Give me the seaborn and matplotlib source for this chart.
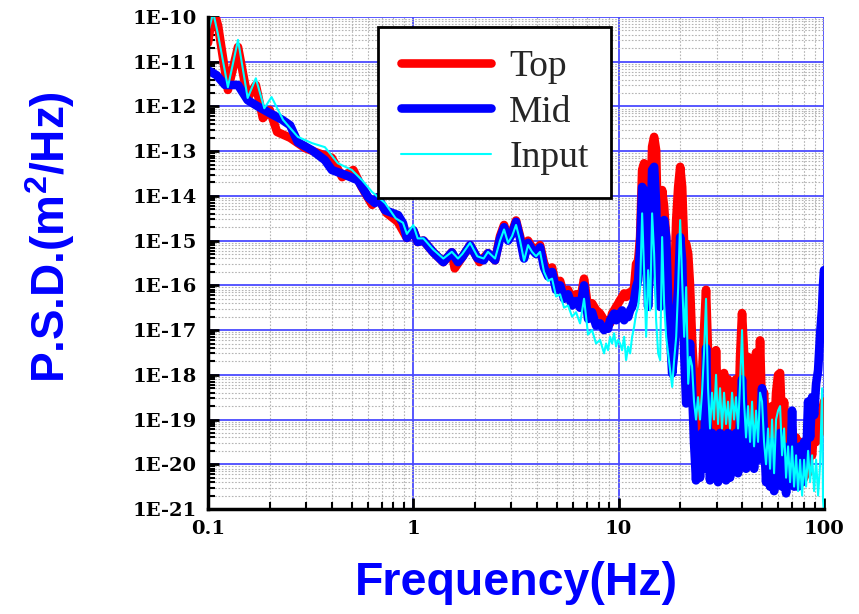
import numpy as np
import pandas as pd
import matplotlib
matplotlib.use("Agg")
import matplotlib.pyplot as plt
import seaborn as sns
from matplotlib.ticker import FixedLocator, LogLocator, NullFormatter

# ---- Spectra below 2.5 Hz: frequency [Hz] and log10 PSD [m^2/Hz] ----
top_lf_freq = [0.100, 0.106, 0.112, 0.125, 0.140, 0.156, 0.171, 0.185, 0.200, 0.217,
               0.251, 0.297, 0.343, 0.401, 0.450, 0.510, 0.560, 0.630, 0.670, 0.740,
               0.840, 0.930, 1.00, 1.05, 1.12, 1.25, 1.40, 1.54, 1.59, 1.73,
               1.89, 2.05, 2.10, 2.31, 2.50]
top_lf_log = [-10.58, -9.80, -10.20, -11.63, -10.67, -11.81, -11.52, -12.26, -12.08, -12.57,
              -12.70, -12.93, -13.04, -13.15, -13.58, -13.42, -13.80, -14.20, -14.03, -14.38,
              -14.58, -14.94, -14.77, -15.03, -15.00, -15.26, -15.48, -15.26, -15.62, -15.37,
              -15.10, -15.39, -15.48, -15.28, -15.44]

mid_lf_freq = [0.100, 0.110, 0.121, 0.140, 0.156, 0.175, 0.200, 0.230, 0.251, 0.274,
               0.321, 0.371, 0.401, 0.465, 0.537, 0.603, 0.650, 0.672, 0.728, 0.843,
               0.890, 0.930, 1.00, 1.05, 1.12, 1.25, 1.40, 1.54, 1.65, 1.73,
               1.89, 2.05, 2.20, 2.31, 2.50]
mid_lf_log = [-11.19, -11.30, -11.52, -11.52, -11.86, -12.00, -12.15, -12.30, -12.42, -12.80,
              -12.98, -13.20, -13.42, -13.53, -13.65, -14.03, -14.16, -14.03, -14.32, -14.43,
              -14.61, -14.94, -14.77, -15.03, -15.00, -15.26, -15.48, -15.26, -15.48, -15.37,
              -15.10, -15.39, -15.44, -15.28, -15.44]

input_lf_freq = [0.100, 0.106, 0.112, 0.125, 0.140, 0.156, 0.171, 0.188, 0.204, 0.232,
                 0.274, 0.321, 0.371, 0.429, 0.502, 0.563, 0.629, 0.728, 0.820, 0.890,
                 0.930, 1.00, 1.05, 1.12, 1.25, 1.40, 1.54, 1.65, 1.73, 1.89,
                 2.05, 2.20, 2.31, 2.50]
input_lf_log = [-10.36, -9.90, -10.40, -11.57, -10.51, -11.81, -11.37, -12.04, -11.79, -12.30,
                -12.68, -12.82, -12.91, -13.27, -13.42, -13.65, -13.91, -14.16, -14.50, -14.60,
                -14.85, -14.65, -14.95, -14.95, -15.20, -15.40, -15.25, -15.40, -15.30, -15.05,
                -15.35, -15.40, -15.25, -15.40]

# ---- Spectra above 2.5 Hz, sampled on a common frequency grid [Hz] ----
hf_freq = [2.644, 2.766, 2.893, 3.025, 3.164, 3.309, 3.461, 3.620, 3.786, 3.960,
           4.141, 4.331, 4.530, 4.738, 4.955, 5.183, 5.420, 5.669, 5.929, 6.201,
           6.486, 6.783, 7.094, 7.420, 7.760,
           8.116, 8.300, 8.489, 8.682, 8.879, 9.080, 9.287, 9.498, 9.714, 9.934,
           10.16, 10.39, 10.63, 10.87, 11.12, 11.37, 11.63, 11.89, 12.16, 12.44,
           12.72, 13.01, 13.30, 13.61, 13.91, 14.23, 14.55, 14.88, 15.22, 15.57,
           15.92, 16.28, 16.65, 17.03, 17.42, 17.81, 18.22, 18.63, 19.06, 19.49,
           19.93, 20.38, 20.85, 21.32, 21.81,
           22.26, 22.77, 23.28, 23.81, 24.35, 24.90, 25.47, 26.05, 26.64, 27.24,
           27.86, 28.49, 29.14, 29.80, 30.47, 31.17, 31.87, 32.60, 33.34, 34.09,
           34.87, 35.66, 36.47, 37.29, 38.14, 39.01, 39.89, 40.80, 41.72, 42.67,
           43.64, 44.63, 45.64, 46.68, 47.74, 48.82, 49.93, 51.06, 52.22, 53.41,
           54.62, 55.86, 57.13, 58.42, 59.75, 61.10, 62.49, 63.91, 65.36, 66.84,
           68.36, 69.91, 71.50, 73.12, 74.78, 76.48, 78.21, 79.99, 81.80, 83.66,
           85.56, 87.50, 89.49, 91.52, 93.60, 95.72, 97.90, 98.90, 100.0]

top_hf_log = [-14.90, -14.65, -14.95, -14.80, -14.55, -14.90, -15.35, -15.00, -15.15, -15.25,
              -15.10, -15.50, -15.70, -15.60, -16.00, -15.90, -16.20, -16.10, -16.30, -16.20,
              -16.35, -15.85, -16.50, -16.40, -16.55,
              -16.63, -16.70, -16.78, -16.82, -16.78, -16.85, -16.63, -16.56, -16.48, -16.41,
              -16.33, -16.26, -16.18, -16.26, -16.18, -16.15, -16.18, -16.04, -15.52, -15.45,
              -14.92, -13.42, -13.27, -13.80, -15.30, -14.54, -12.90, -12.68, -12.98, -15.14,
              -15.00, -13.87, -14.24, -14.92, -16.04, -16.78, -16.40, -16.04, -14.54, -13.80,
              -13.35, -13.80, -15.14, -15.07, -15.30,
              -16.00, -17.20, -18.00, -19.00, -17.95, -19.20, -18.00, -17.00, -16.10, -17.50,
              -19.00, -18.00, -19.20, -17.45, -19.00, -18.00, -19.30, -17.96, -19.10, -18.10,
              -19.20, -18.20, -19.30, -18.10, -19.20, -17.60, -16.62, -17.50, -18.90, -17.60,
              -19.00, -17.70, -19.10, -17.50, -18.90, -17.23, -18.90, -18.40, -19.30, -18.90,
              -19.50, -18.70, -19.40, -18.40, -18.00, -17.96, -19.20, -18.60, -19.60, -19.00,
              -19.80, -19.20, -19.90, -19.40, -20.10, -19.50, -20.40, -20.30, -19.90, -20.20,
              -19.50, -19.80, -19.20, -19.50, -19.00, -19.30, -18.80, -18.70, -18.60]

mid_hf_log = [-14.95, -14.70, -15.00, -14.85, -14.58, -14.95, -15.40, -15.05, -15.20, -15.30,
              -15.15, -15.60, -15.80, -15.70, -16.10, -16.00, -16.30, -16.20, -16.45, -16.35,
              -16.50, -16.00, -16.75, -16.60, -16.90,
              -16.85, -16.93, -17.00, -16.93, -16.97, -16.78, -16.71, -16.63, -16.78, -16.71,
              -16.63, -16.56, -16.78, -16.63, -16.71, -16.56, -16.48, -16.33, -16.04, -15.89,
              -15.14, -13.80, -13.87, -14.92, -16.48, -15.29, -13.42, -13.35, -14.17, -16.04,
              -16.48, -14.77, -14.54, -14.92, -16.33, -17.15, -17.97, -17.52, -16.78, -16.04,
              -14.92, -15.44, -17.52, -18.64, -18.00,
              -17.30, -18.30, -19.50, -20.36, -19.40, -20.30, -19.30, -20.10, -17.40, -19.40,
              -20.36, -19.30, -20.20, -19.40, -20.40, -19.30, -20.20, -19.45, -20.36, -19.30,
              -20.30, -19.40, -20.10, -19.30, -20.20, -19.00, -18.10, -19.30, -20.10, -19.30,
              -20.00, -19.20, -20.10, -19.30, -19.90, -19.20, -18.30, -19.40, -20.40, -19.50,
              -20.50, -19.50, -20.60, -19.60, -20.40, -19.30, -20.50, -19.60, -20.65, -19.70,
              -20.40, -18.80, -20.50, -19.70, -20.50, -19.60, -20.40, -19.50, -20.00, -18.60,
              -19.40, -18.50, -18.90, -18.20, -17.90, -17.10, -16.50, -16.00, -15.66]

input_hf_log = [-15.00, -14.75, -15.05, -14.90, -14.65, -15.00, -15.45, -15.10, -15.25, -15.35,
                -15.25, -15.70, -15.90, -15.85, -16.25, -16.20, -16.50, -16.45, -16.70, -16.60,
                -16.85, -16.30, -17.10, -17.00, -17.30,
                -17.22, -17.37, -17.52, -17.30, -17.45, -17.15, -17.30, -17.07, -17.37, -17.22,
                -17.30, -17.45, -17.15, -17.67, -17.37, -17.52, -17.15, -16.93, -16.63, -16.48,
                -16.04, -14.39, -15.66, -17.15, -15.66, -16.56, -14.39, -15.29, -16.78, -17.52,
                -17.67, -14.92, -16.41, -17.15, -17.52, -17.90, -18.27, -17.67, -17.15, -16.04,
                -14.54, -15.89, -17.15, -16.04, -18.20,
                -17.60, -17.80, -18.60, -19.00, -18.50, -19.00, -18.40, -17.50, -16.30, -18.30,
                -19.20, -18.40, -19.00, -18.00, -19.10, -18.30, -19.20, -18.40, -19.10, -18.60,
                -19.20, -18.40, -19.00, -18.50, -19.20, -18.20, -17.00, -18.60, -19.40, -18.70,
                -19.50, -18.60, -19.60, -18.80, -19.50, -18.40, -18.60, -19.50, -20.00, -19.20,
                -20.10, -19.00, -20.20, -19.00, -18.80, -18.70, -19.80, -19.20, -20.30, -19.60,
                -20.40, -19.60, -20.50, -19.80, -20.60, -19.90, -20.70, -19.90, -20.50, -19.70,
                -20.40, -19.80, -20.60, -19.90, -20.70, -20.00, -18.30, -20.80, -21.10]

series_names = ["Top", "Mid", "Input"]
series_colors = {"Top": "#ff0000", "Mid": "#0000ff", "Input": "#00ffff"}
series_widths = {"Top": 6.2, "Mid": 6.2, "Input": 1.5}

y_tick_exponents = list(range(-21, -9))
y_tick_labels = ["1E-%d" % (-e) for e in y_tick_exponents]
x_tick_values = [0.1, 1, 10, 100]
x_tick_labels = ["0.1", "1", "10", "100"]

frames = []
for name, f_lo, l_lo, l_hi in [("Top", top_lf_freq, top_lf_log, top_hf_log),
                               ("Mid", mid_lf_freq, mid_lf_log, mid_hf_log),
                               ("Input", input_lf_freq, input_lf_log, input_hf_log)]:
    freq = list(f_lo) + list(hf_freq)
    logp = list(l_lo) + list(l_hi)
    frames.append(pd.DataFrame({"Frequency": freq,
                                "PSD": 10.0 ** np.asarray(logp),
                                "Sensor": name}))
df = pd.concat(frames, ignore_index=True)

sns.set_style("white")
fig = plt.figure(figsize=(8.59, 6.14), dpi=100)
ax = fig.add_axes([208 / 859, 105 / 614, 616 / 859, 492 / 614])

for name in series_names:
    sns.lineplot(data=df[df["Sensor"] == name], x="Frequency", y="PSD",
                 color=series_colors[name], linewidth=series_widths[name],
                 estimator=None, sort=False, label=name, ax=ax,
                 solid_capstyle="round", solid_joinstyle="round")

ax.set_xscale("log")
ax.set_yscale("log")
ax.set_xlim(0.1, 100)
ax.set_ylim(1e-21, 1e-10)

ax.yaxis.set_major_locator(FixedLocator([10.0 ** e for e in y_tick_exponents]))
ax.set_yticklabels(y_tick_labels)
ax.xaxis.set_major_locator(FixedLocator(x_tick_values))
ax.set_xticklabels(x_tick_labels)
ax.xaxis.set_minor_locator(LogLocator(base=10, subs=np.arange(2, 10), numticks=30))
ax.yaxis.set_minor_locator(LogLocator(base=10, subs=np.arange(2, 10), numticks=30))
ax.xaxis.set_minor_formatter(NullFormatter())
ax.yaxis.set_minor_formatter(NullFormatter())

ax.set_axisbelow(True)
ax.grid(which="major", color="#4a4aff", linewidth=1.3, linestyle="-")
ax.grid(which="minor", color="#b4b4b4", linewidth=0.8, linestyle=(0, (1.5, 1.5)))

for side in ("top", "right"):
    ax.spines[side].set_visible(False)
for side in ("left", "bottom"):
    ax.spines[side].set_color("black")
    ax.spines[side].set_linewidth(2.5)

ax.tick_params(which="major", direction="in", length=8, width=2, color="black",
               left=True, bottom=True, top=False, right=False, pad=8)
ax.tick_params(which="minor", direction="in", length=5, width=1.5, color="black",
               left=True, bottom=True, top=False, right=False)
for lab in ax.get_yticklabels() + ax.get_xticklabels():
    lab.set_fontfamily("DejaVu Serif")
    lab.set_fontweight("bold")
    lab.set_fontsize(14)
    lab.set_color("black")

ax.set_xlabel("")
ax.set_ylabel("")
fig.text(516 / 859, 1 - 583 / 614, "Frequency(Hz)", color="#0000ff",
         fontfamily="Liberation Sans", fontweight="bold", fontsize=33.5,
         ha="center", va="center")
fig.text(50 / 859, 1 - 237 / 614, "P.S.D.(m$^\\mathregular{2}$/Hz)", color="#0000ff",
         fontfamily="Liberation Sans", fontweight="bold", fontsize=33,
         rotation=90, ha="center", va="center")

leg = ax.legend(loc="upper left", bbox_to_anchor=(0.276, 0.98), frameon=True,
                fancybox=False, edgecolor="black", framealpha=1,
                prop={"family": "Liberation Serif", "size": 27},
                handlelength=2.4, handletextpad=0.5, labelspacing=0.3,
                borderpad=0.6, borderaxespad=0)
leg.get_frame().set_linewidth(2)

fig.savefig("out.png", dpi=100)
